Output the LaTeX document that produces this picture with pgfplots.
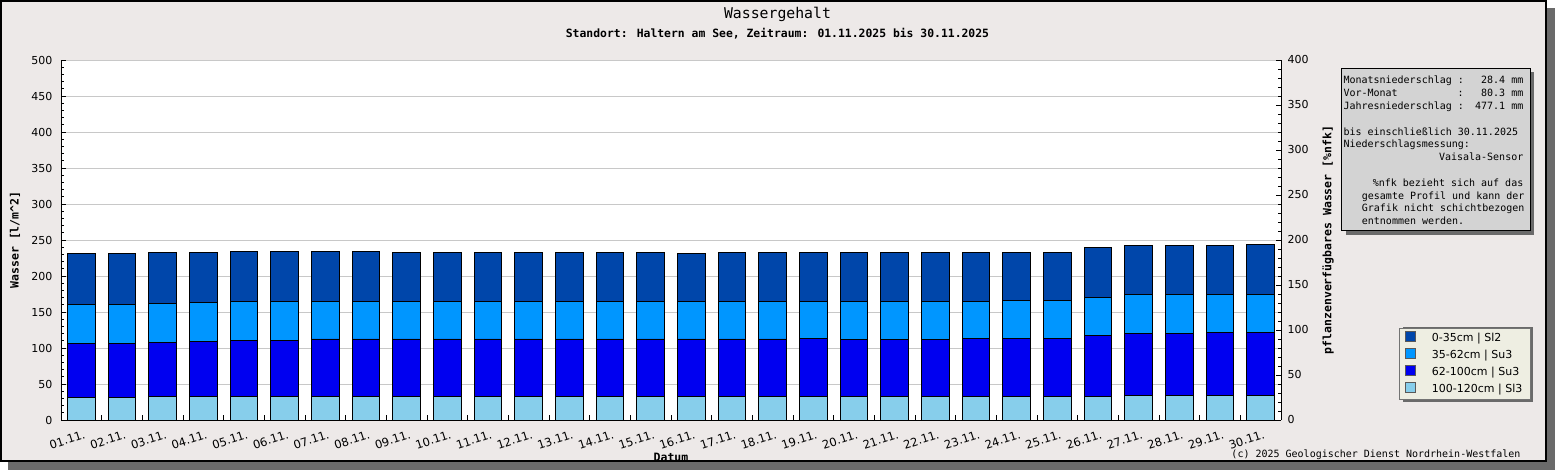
\documentclass[border=0pt]{standalone}
\usepackage{fontspec}
\setmainfont{DejaVu Sans}
\newfontfamily\monof{DejaVu Sans Mono}
\usepackage{pgfplots}
\pgfplotsset{compat=1.18}
\usepackage{pgfplotstable}

\definecolor{bgc}{HTML}{EDE9E8}
\definecolor{shadowc}{HTML}{6A6A6A}
\definecolor{gridc}{HTML}{C8C8C8}
\definecolor{infoc}{HTML}{D3D3D3}
\definecolor{legbg}{HTML}{EEEEE2}
\definecolor{cA}{HTML}{87CEEB}
\definecolor{cB}{HTML}{0000F0}
\definecolor{cC}{HTML}{0096FF}
\definecolor{cD}{HTML}{0046AA}

\pgfplotstableread{
x a b c d
1 31.5 75.0 53.7 71.3
2 31.5 75.0 53.7 71.3
3 32.4 75.5 54.1 70.9
4 32.4 77.3 53.7 69.5
5 32.4 78.2 54.2 69.5
6 32.4 78.2 54.2 69.5
7 32.4 80.1 52.3 69.5
8 32.4 80.1 52.3 69.5
9 32.4 80.1 52.3 68.1
10 32.4 80.1 52.3 68.1
11 32.4 80.1 52.3 68.1
12 32.4 80.1 52.3 68.1
13 32.4 80.1 52.3 68.1
14 32.4 80.1 52.3 68.1
15 32.4 80.1 52.3 68.1
16 32.4 80.1 52.3 66.7
17 32.4 80.1 52.3 68.1
18 32.4 80.1 52.3 68.1
19 32.9 80.5 51.4 68.1
20 32.9 79.1 52.8 68.1
21 32.9 79.1 52.8 68.1
22 32.9 79.1 52.8 68.1
23 32.9 80.5 51.4 68.1
24 32.9 80.5 52.8 66.7
25 32.9 80.5 52.8 66.7
26 32.9 84.7 52.8 69.4
27 34.3 86.1 54.1 68.1
28 34.3 86.1 54.1 68.1
29 34.3 87.5 52.7 68.1
30 34.3 87.5 52.7 69.5
}\wdata

\begin{document}
\begin{tikzpicture}[x=1pt,y=1pt]
\useasboundingbox (0,0) rectangle (1555,470);
\fill[shadowc] (8,0) rectangle (1555,462);
\fill[bgc] (0,8) rectangle (1547,470);
\draw[black, line width=1.6pt] (0.8,8.8) rectangle (1546.2,469.2);
% legend shadow
\fill[shadowc] (1403.3,67.7) rectangle (1533.3,143.3);

\begin{axis}[
  at={(61pt,50pt)}, anchor=south west,
  scale only axis, width=1220pt, height=360pt,
  xmin=0.5, xmax=30.5, ymin=0, ymax=500,
  ybar stacked, bar width=0.68,
  axis background/.style={fill=white},
  axis x line*=bottom, axis y line*=left,
  axis line style={black, line width=0.9pt},
  tick align=inside, major tick length=5pt, minor tick length=3pt,
  tick style={black, line width=0.8pt},
  ytick={0,50,...,500}, minor y tick num=4,
  ymajorgrids, grid style={draw=gridc, line width=0.8pt},
  xtick={0.5,1.5,...,30.5},
  x tick label as interval,
  xticklabels={01.11.,02.11.,03.11.,04.11.,05.11.,06.11.,07.11.,08.11.,09.11.,10.11.,11.11.,12.11.,13.11.,14.11.,15.11.,16.11.,17.11.,18.11.,19.11.,20.11.,21.11.,22.11.,23.11.,24.11.,25.11.,26.11.,27.11.,28.11.,29.11.,30.11.},
  yticklabel style={xshift=-5pt},
  ticklabel style={font=\fontsize{11}{13}\selectfont},
  xticklabel style={rotate=18, anchor=north east, inner sep=0pt, xshift=-1pt, yshift=-10pt, font=\fontsize{11.5}{13}\selectfont},
  /pgf/number format/assume math mode=true,
  every axis plot/.append style={draw=black, line width=0.8pt},
  reverse legend,
  legend cell align=left,
  legend image code/.code={\draw[#1, draw=black!65, line width=0.8pt] (0pt,-3pt) rectangle (10pt,7pt);},
  legend style={at={(1.0965,0.057)}, anchor=south west,
    fill=legbg, draw=black!55, line width=0.8pt,
    font=\fontsize{11}{13}\selectfont,
    inner xsep=6pt, inner ysep=2.5pt, row sep=2.2pt,
    nodes={text height=8pt, text depth=2.5pt},
    /tikz/every odd column/.append style={column sep=14pt}},
]
\addplot[fill=cA] table[x=x, y=a] {\wdata};
\addlegendentry{100-120cm | Sl3}
\addplot[fill=cB] table[x=x, y=b] {\wdata};
\addlegendentry{62-100cm | Su3}
\addplot[fill=cC] table[x=x, y=c] {\wdata};
\addlegendentry{35-62cm | Su3}
\addplot[fill=cD] table[x=x, y=d] {\wdata};
\addlegendentry{0-35cm | Sl2}
\end{axis}

\begin{axis}[
  at={(61pt,50pt)}, anchor=south west,
  scale only axis, width=1220pt, height=360pt,
  xmin=0.5, xmax=30.5, ymin=0, ymax=400,
  axis x line=none, axis y line*=right,
  axis line style={black, line width=0.9pt},
  tick align=inside, major tick length=5pt, minor tick length=3pt,
  tick style={black, line width=0.8pt},
  ytick={0,50,...,400}, minor y tick num=4,
  yticklabel style={xshift=3pt},
  ticklabel style={font=\fontsize{11}{13}\selectfont},
  /pgf/number format/assume math mode=true,
]
\end{axis}

% titles and labels
\node[font=\monof\fontsize{14.8}{16}\selectfont] at (777.5,456) {Wassergehalt};
\node[font=\monof\bfseries\fontsize{11.4}{13}\selectfont] at (777.5,436.5) {Standort: Haltern am See, Zeitraum: 01.11.2025 bis 30.11.2025};
\node[font=\monof\bfseries\fontsize{11.5}{13}\selectfont, rotate=90] at (15,230) {Wasser [l/m\^{}2]};
\node[font=\monof\bfseries\fontsize{11.5}{13}\selectfont, rotate=90] at (1328,230) {pflanzenverfügbares Wasser [\%nfk]};
\node[font=\monof\bfseries\fontsize{11.5}{13}\selectfont] at (671,13) {Datum};
\node[font=\monof\fontsize{10}{12}\selectfont, anchor=east] at (1524,15) {(c) 2025 Geologischer Dienst Nordrhein-Westfalen};

% info box
\fill[shadowc] (1345.7,235) rectangle (1534,397.7);
\draw[draw=black, fill=infoc, line width=1pt] (1341.7,239) rectangle (1530,401.7);
\begin{scope}[every node/.style={font=\monof\fontsize{10}{12}\selectfont, inner sep=0pt}]
\node[anchor=base west] at (1343.3,386) {Monatsniederschlag :};
\node[anchor=base east] at (1523.5,386) {28.4 mm};
\node[anchor=base west] at (1343.3,373.2) {Vor-Monat};
\node[anchor=base west] at (1457.3,373.2) {:};
\node[anchor=base east] at (1523.5,373.2) {80.3 mm};
\node[anchor=base west] at (1343.3,360.4) {Jahresniederschlag :};
\node[anchor=base east] at (1523.5,360.4) {477.1 mm};
\node[anchor=base west] at (1343.3,334.8) {bis einschließlich 30.11.2025};
\node[anchor=base west] at (1343.3,322) {Niederschlagsmessung:};
\node[anchor=base east] at (1523.5,309.2) {Vaisala-Sensor};
\node[anchor=base east] at (1523.5,283.6) {\%nfk bezieht sich auf das};
\node[anchor=base west] at (1361.7,270.8) {gesamte Profil und kann der};
\node[anchor=base west] at (1361.7,258) {Grafik nicht schichtbezogen};
\node[anchor=base west] at (1361.7,245.2) {entnommen werden.};
\end{scope}
\end{tikzpicture}
\end{document}
